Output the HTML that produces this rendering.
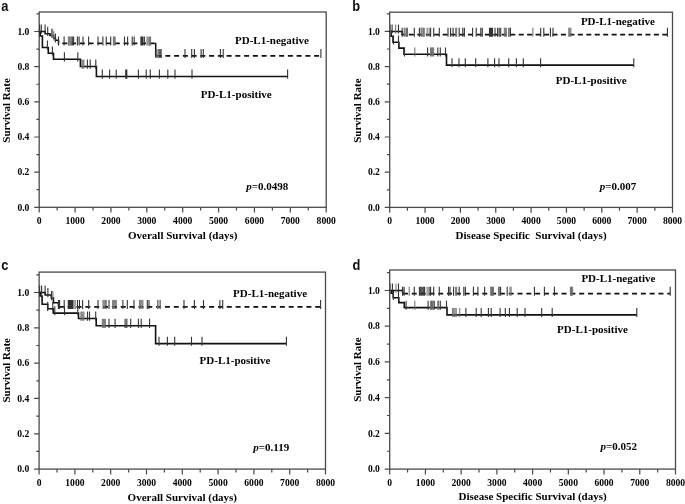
<!DOCTYPE html><html><head><meta charset="utf-8"><style>
html,body{margin:0;padding:0;background:#fff;width:685px;height:504px;overflow:hidden}
svg{display:block;filter:blur(0.3px)}
.t{font-family:"Liberation Serif", serif;font-weight:bold;font-size:9.6px;fill:#000}
.tt{font-family:"Liberation Serif", serif;font-weight:bold;font-size:11px;fill:#000}
.lab{font-family:"Liberation Sans", sans-serif;font-weight:bold;font-size:14.3px;fill:#111}
</style></head><body>
<svg width="685" height="504" viewBox="0 0 685 504">
<rect x="39.2" y="12" width="287" height="195.3" fill="none" stroke="#4a4a4a" stroke-width="1.3"/>
<path d="M34.2 207.3H39.2M36.4 189.72H39.2M34.2 172.14H39.2M36.4 154.56H39.2M34.2 136.98H39.2M36.4 119.4H39.2M34.2 101.82H39.2M36.4 84.24H39.2M34.2 66.66H39.2M36.4 49.08H39.2M34.2 31.5H39.2M36.4 13.92H39.2M39.2 207.3V212.6M57.14 207.3V210.6M75.08 207.3V212.6M93.01 207.3V210.6M110.95 207.3V212.6M128.89 207.3V210.6M146.82 207.3V212.6M164.76 207.3V210.6M182.7 207.3V212.6M200.64 207.3V210.6M218.57 207.3V212.6M236.51 207.3V210.6M254.45 207.3V212.6M272.39 207.3V210.6M290.32 207.3V212.6M308.26 207.3V210.6M326.2 207.3V212.6" stroke="#4a4a4a" stroke-width="1.2" fill="none"/>
<text x="29.4" y="210.5" text-anchor="end" class="t">0.0</text>
<text x="29.4" y="175.34" text-anchor="end" class="t">0.2</text>
<text x="29.4" y="140.18" text-anchor="end" class="t">0.4</text>
<text x="29.4" y="105.02" text-anchor="end" class="t">0.6</text>
<text x="29.4" y="69.86" text-anchor="end" class="t">0.8</text>
<text x="29.4" y="34.7" text-anchor="end" class="t">1.0</text>
<text x="39.2" y="224" text-anchor="middle" class="t">0</text>
<text x="75.08" y="224" text-anchor="middle" class="t">1000</text>
<text x="110.95" y="224" text-anchor="middle" class="t">2000</text>
<text x="146.82" y="224" text-anchor="middle" class="t">3000</text>
<text x="182.7" y="224" text-anchor="middle" class="t">4000</text>
<text x="218.57" y="224" text-anchor="middle" class="t">5000</text>
<text x="254.45" y="224" text-anchor="middle" class="t">6000</text>
<text x="290.32" y="224" text-anchor="middle" class="t">7000</text>
<text x="326.2" y="224" text-anchor="middle" class="t">8000</text>
<text x="182.7" y="239.1" text-anchor="middle" class="tt" xml:space="preserve">Overall Survival (days)</text>
<text transform="translate(10.2 110.45) rotate(-90)" text-anchor="middle" class="tt">Survival Rate</text>
<text transform="translate(1.2 11) scale(0.9 1)" class="lab">a</text>
<text x="288.2" y="189.6" text-anchor="end" class="tt"><tspan font-style="italic">p</tspan>=0.0498</text>
<text x="235" y="44" class="tt">PD-L1-negative</text>
<text x="200.7" y="97.9" class="tt">PD-L1-positive</text>
<path d="M39.5 31.5L40.2 31.5L40.2 36L42.4 36L42.4 47.5L48.3 47.5L48.3 53.3L53.5 53.3L53.5 59.2L80.4 59.2L80.4 66.5L96.4 66.5L96.4 76.5L287.6 76.5" stroke="#111" stroke-width="1.6" fill="none"/>
<path d="M47.4 40.6V49.7M52.4 46.4V55.5M64.4 52.3V61.4M77.8 52.3V61.4M87.4 59.6V68.7M90.2 59.6V68.7M95.8 59.6V68.7M102.3 69.6V78.7M109.6 69.6V78.7M116.2 69.6V78.7M125.7 69.6V78.7M126.8 69.6V78.7M138.4 69.6V78.7M146.2 69.6V78.7M150.3 69.6V78.7M159.4 69.6V78.7M167.8 69.6V78.7M175 69.6V78.7M192 69.6V78.7M287.6 69.6V78.7" stroke="#333" stroke-width="1.1" fill="none"/>
<path d="M81.9 59.6V68.7M82.9 59.6V68.7M83.9 59.6V68.7" stroke="#6a6a6a" stroke-width="1" fill="none"/>
<path d="M58.5 43.4H155.7" stroke="#111" stroke-width="1.7" fill="none" stroke-dasharray="5 3.75" stroke-dashoffset="4.95"/>
<path d="M155.7 55.9H320.9" stroke="#111" stroke-width="1.7" fill="none" stroke-dasharray="5 3.75" stroke-dashoffset="7.85"/>
<path d="M39.5 31.5L45.2 31.5M45.2 31.5L45.2 33.7M45.2 33.7L50 33.7M50 33.7L50 35.6M50 35.6L53.5 35.6M53.5 35.6L53.5 38.1M53.5 38.1L55.4 38.1M55.4 38.1L55.4 40.3M55.4 40.3L58.5 40.3M58.5 40.3L58.5 43.4M155.7 43.4L155.7 55.9" stroke="#111" stroke-width="1.5" fill="none" stroke-linecap="square"/>
<path d="M39.6 24.6V33.7M41.3 24.6V33.7M45.1 24.6V33.7M47.7 26.8V35.9M55.4 33.4V42.5M58.5 36.5V45.6M64.1 36.5V45.6M72.3 36.5V45.6M73.6 36.5V45.6M77.4 36.5V45.6M79.1 36.5V45.6M83 36.5V45.6M88.6 36.5V45.6M98 36.5V45.6M102.9 36.5V45.6M106.2 36.5V45.6M110.7 36.5V45.6M124.5 36.5V45.6M127.6 36.5V45.6M132.2 36.5V45.6M134.2 36.5V45.6M140.9 36.5V45.6M141.9 36.5V45.6M142.9 36.5V45.6M144.4 36.5V45.6M155.9 49V58.1M159.8 49V58.1M161.1 49V58.1M185 49V58.1M191.7 49V58.1M194.4 49V58.1M201.1 49V58.1M203.3 49V58.1M220.4 49V58.1M223.2 49V58.1M320.9 49V58.1" stroke="#333" stroke-width="1.1" fill="none"/>
<path d="M51.6 28.7V37.8M52.7 28.7V37.8M53.8 31.2V40.3M68.3 36.5V45.6M69.3 36.5V45.6M70.3 36.5V45.6M71.3 36.5V45.6M113.4 36.5V45.6M114.3 36.5V45.6M115.1 36.5V45.6M147 36.5V45.6M148.2 36.5V45.6M149.4 36.5V45.6M150.6 36.5V45.6M157 49V58.1M158.4 49V58.1" stroke="#6a6a6a" stroke-width="1" fill="none"/>
<rect x="389.7" y="12.2" width="282.8" height="195.2" fill="none" stroke="#4a4a4a" stroke-width="1.3"/>
<path d="M384.7 207.4H389.7M386.9 189.8H389.7M384.7 172.2H389.7M386.9 154.6H389.7M384.7 137H389.7M386.9 119.4H389.7M384.7 101.8H389.7M386.9 84.2H389.7M384.7 66.6H389.7M386.9 49H389.7M384.7 31.4H389.7M386.9 13.8H389.7M389.7 207.4V212.7M407.38 207.4V210.7M425.05 207.4V212.7M442.72 207.4V210.7M460.4 207.4V212.7M478.07 207.4V210.7M495.75 207.4V212.7M513.42 207.4V210.7M531.1 207.4V212.7M548.77 207.4V210.7M566.45 207.4V212.7M584.12 207.4V210.7M601.8 207.4V212.7M619.48 207.4V210.7M637.15 207.4V212.7M654.83 207.4V210.7M672.5 207.4V212.7" stroke="#4a4a4a" stroke-width="1.2" fill="none"/>
<text x="379.9" y="210.6" text-anchor="end" class="t">0.0</text>
<text x="379.9" y="175.4" text-anchor="end" class="t">0.2</text>
<text x="379.9" y="140.2" text-anchor="end" class="t">0.4</text>
<text x="379.9" y="105" text-anchor="end" class="t">0.6</text>
<text x="379.9" y="69.8" text-anchor="end" class="t">0.8</text>
<text x="379.9" y="34.6" text-anchor="end" class="t">1.0</text>
<text x="389.7" y="223.9" text-anchor="middle" class="t">0</text>
<text x="425.05" y="223.9" text-anchor="middle" class="t">1000</text>
<text x="460.4" y="223.9" text-anchor="middle" class="t">2000</text>
<text x="495.75" y="223.9" text-anchor="middle" class="t">3000</text>
<text x="531.1" y="223.9" text-anchor="middle" class="t">4000</text>
<text x="566.45" y="223.9" text-anchor="middle" class="t">5000</text>
<text x="601.8" y="223.9" text-anchor="middle" class="t">6000</text>
<text x="637.15" y="223.9" text-anchor="middle" class="t">7000</text>
<text x="672.5" y="223.9" text-anchor="middle" class="t">8000</text>
<text x="531.1" y="239.1" text-anchor="middle" class="tt" xml:space="preserve">Disease Specific  Survival (days)</text>
<text transform="translate(361 110.6) rotate(-90)" text-anchor="middle" class="tt">Survival Rate</text>
<text transform="translate(352.3 10.9) scale(0.9 1)" class="lab">b</text>
<text x="636.3" y="190" text-anchor="end" class="tt"><tspan font-style="italic">p</tspan>=0.007</text>
<text x="580.9" y="25.1" class="tt">PD-L1-negative</text>
<text x="555.8" y="83.9" class="tt">PD-L1-positive</text>
<path d="M389.7 31.4L391.1 31.4L391.1 36.2L393 36.2L393 42.3L398.9 42.3L398.9 48.1L404 48.1L404 54.3L446.5 54.3L446.5 65.1L633.8 65.1" stroke="#111" stroke-width="1.6" fill="none"/>
<path d="M393.5 35.4V44.5M398.5 35.4V44.5M404.5 47.4V56.5M427.6 47.4V56.5M437.8 47.4V56.5M440.3 47.4V56.5M445.5 47.4V56.5M452 58.2V67.3M459 58.2V67.3M465.3 58.2V67.3M475.7 58.2V67.3M487.9 58.2V67.3M494.6 58.2V67.3M499 58.2V67.3M508.7 58.2V67.3M516.4 58.2V67.3M523.3 58.2V67.3M540.6 58.2V67.3M633.8 58.2V67.3" stroke="#333" stroke-width="1.1" fill="none"/>
<path d="M414.8 47.4V56.5M430.6 47.4V56.5M431.6 47.4V56.5M432.6 47.4V56.5M433.7 47.4V56.5" stroke="#6a6a6a" stroke-width="1" fill="none"/>
<path d="M402.1 34.6H667.4" stroke="#111" stroke-width="1.7" fill="none" stroke-dasharray="5 3.45" stroke-dashoffset="1.7"/>
<path d="M389.7 31.4L402.1 31.4M402.1 31.4L402.1 34.6" stroke="#111" stroke-width="1.5" fill="none" stroke-linecap="square"/>
<path d="M392.1 24.5V33.6M398.5 24.5V33.6M402.1 27.7V36.8M414.3 27.7V36.8M419.4 27.7V36.8M424 27.7V36.8M430.6 27.7V36.8M433.7 27.7V36.8M439.3 27.7V36.8M448 27.7V36.8M450.6 27.7V36.8M453.1 27.7V36.8M459.2 27.7V36.8M462.8 27.7V36.8M464.4 27.7V36.8M472.6 27.7V36.8M476.2 27.7V36.8M480.8 27.7V36.8M482.3 27.7V36.8M489.5 27.7V36.8M490.5 27.7V36.8M491.5 27.7V36.8M492.5 27.7V36.8M495 27.7V36.8M497.6 27.7V36.8M499.2 27.7V36.8M500.7 27.7V36.8M508.9 27.7V36.8M510.4 27.7V36.8M540.7 27.7V36.8M543.8 27.7V36.8M550.4 27.7V36.8M553 27.7V36.8M667.4 27.7V36.8" stroke="#333" stroke-width="1.1" fill="none"/>
<path d="M390.4 24.5V33.6M395.7 24.5V33.6M404.1 27.7V36.8M405.1 27.7V36.8M406.5 27.7V36.8M407.5 27.7V36.8M421 27.7V36.8M422 27.7V36.8M423 27.7V36.8M427.1 27.7V36.8M429.1 27.7V36.8M455.7 27.7V36.8M456.7 27.7V36.8M504.3 27.7V36.8M505.3 27.7V36.8M506.3 27.7V36.8M532.9 27.7V36.8M568.8 27.7V36.8M569.8 27.7V36.8M570.9 27.7V36.8" stroke="#6a6a6a" stroke-width="1" fill="none"/>
<rect x="39.1" y="272.1" width="286.4" height="197" fill="none" stroke="#4a4a4a" stroke-width="1.3"/>
<path d="M34.1 469.1H39.1M36.3 451.44H39.1M34.1 433.78H39.1M36.3 416.12H39.1M34.1 398.46H39.1M36.3 380.8H39.1M34.1 363.14H39.1M36.3 345.48H39.1M34.1 327.82H39.1M36.3 310.16H39.1M34.1 292.5H39.1M36.3 274.84H39.1M39.1 469.1V474.4M57 469.1V472.4M74.9 469.1V474.4M92.8 469.1V472.4M110.7 469.1V474.4M128.6 469.1V472.4M146.5 469.1V474.4M164.4 469.1V472.4M182.3 469.1V474.4M200.2 469.1V472.4M218.1 469.1V474.4M236 469.1V472.4M253.9 469.1V474.4M271.8 469.1V472.4M289.7 469.1V474.4M307.6 469.1V472.4M325.5 469.1V474.4" stroke="#4a4a4a" stroke-width="1.2" fill="none"/>
<text x="29.3" y="472.3" text-anchor="end" class="t">0.0</text>
<text x="29.3" y="436.98" text-anchor="end" class="t">0.2</text>
<text x="29.3" y="401.66" text-anchor="end" class="t">0.4</text>
<text x="29.3" y="366.34" text-anchor="end" class="t">0.6</text>
<text x="29.3" y="331.02" text-anchor="end" class="t">0.8</text>
<text x="29.3" y="295.7" text-anchor="end" class="t">1.0</text>
<text x="39.1" y="485.5" text-anchor="middle" class="t">0</text>
<text x="74.9" y="485.5" text-anchor="middle" class="t">1000</text>
<text x="110.7" y="485.5" text-anchor="middle" class="t">2000</text>
<text x="146.5" y="485.5" text-anchor="middle" class="t">3000</text>
<text x="182.3" y="485.5" text-anchor="middle" class="t">4000</text>
<text x="218.1" y="485.5" text-anchor="middle" class="t">5000</text>
<text x="253.9" y="485.5" text-anchor="middle" class="t">6000</text>
<text x="289.7" y="485.5" text-anchor="middle" class="t">7000</text>
<text x="325.5" y="485.5" text-anchor="middle" class="t">8000</text>
<text x="182.3" y="500.5" text-anchor="middle" class="tt" xml:space="preserve">Overall Survival (days)</text>
<text transform="translate(10.2 370.3) rotate(-90)" text-anchor="middle" class="tt">Survival Rate</text>
<text transform="translate(1.3 270.2) scale(0.9 1)" class="lab">c</text>
<text x="289.2" y="451" text-anchor="end" class="tt"><tspan font-style="italic">p</tspan>=0.119</text>
<text x="233.1" y="296.8" class="tt">PD-L1-negative</text>
<text x="199.6" y="363.5" class="tt">PD-L1-positive</text>
<path d="M39.4 292.5L40.2 292.5L40.2 296L42.1 296L42.1 304.3L47.7 304.3L47.7 308.7L53.3 308.7L53.3 313.1L78.5 313.1L78.5 318.5L96.2 318.5L96.2 325.7L155.6 325.7L155.6 343.6L286.4 343.6" stroke="#111" stroke-width="1.6" fill="none"/>
<path d="M47.7 301.8V310.9M52.8 301.8V310.9M54.8 306.2V315.3M64.5 306.2V315.3M77.8 306.2V315.3M87.5 311.6V320.7M89.5 311.6V320.7M95.7 311.6V320.7M109 318.8V327.9M115.1 318.8V327.9M125.1 318.8V327.9M126.8 318.8V327.9M130.7 318.8V327.9M138.4 318.8V327.9M141.2 318.8V327.9M149.6 318.8V327.9M159 336.7V345.8M167.4 336.7V345.8M174.7 336.7V345.8M191.5 336.7V345.8M202 336.7V345.8M286.4 336.7V345.8" stroke="#333" stroke-width="1.1" fill="none"/>
<path d="M80.9 311.6V320.7M81.9 311.6V320.7M82.9 311.6V320.7M83.9 311.6V320.7M102.3 318.8V327.9M103.3 318.8V327.9M104.3 318.8V327.9M105.4 318.8V327.9" stroke="#6a6a6a" stroke-width="1" fill="none"/>
<path d="M58.5 306.8H320.6" stroke="#111" stroke-width="1.7" fill="none" stroke-dasharray="5 3.84" stroke-dashoffset="8.5"/>
<path d="M39.4 292.5L45.2 292.5M45.2 292.5L45.2 295M45.2 295L51.3 295M51.3 295L51.3 298M51.3 298L53.5 298M53.5 298L53.5 302.8M53.5 302.8L58.5 302.8M58.5 302.8L58.5 306.8" stroke="#111" stroke-width="1.5" fill="none" stroke-linecap="square"/>
<path d="M39.6 285.6V294.7M41.6 285.6V294.7M45.1 285.6V294.7M47.9 288.1V297.2M51.6 291.1V300.2M58.5 299.9V309M59.6 299.9V309M64.2 299.9V309M68.3 299.9V309M69.4 299.9V309M70.5 299.9V309M71.6 299.9V309M72.7 299.9V309M77.5 299.9V309M79.5 299.9V309M82.6 299.9V309M88.7 299.9V309M98 299.9V309M106 299.9V309M109 299.9V309M116 299.9V309M122.9 299.9V309M127.3 299.9V309M134 299.9V309M147.3 299.9V309M149 299.9V309M184 299.9V309M194.4 299.9V309M203.5 299.9V309M219.9 299.9V309M222.7 299.9V309M320.6 299.9V309" stroke="#333" stroke-width="1.1" fill="none"/>
<path d="M52.9 291.1V300.2M73.9 299.9V309M75.2 299.9V309M103 299.9V309M104 299.9V309M105 299.9V309M112.7 299.9V309M113.7 299.9V309M114.7 299.9V309M139.6 299.9V309M140.7 299.9V309M141.8 299.9V309M142.9 299.9V309M157.6 299.9V309M159 299.9V309M160.4 299.9V309" stroke="#6a6a6a" stroke-width="1" fill="none"/>
<rect x="389.7" y="270" width="285.8" height="199.1" fill="none" stroke="#4a4a4a" stroke-width="1.3"/>
<path d="M384.7 469.1H389.7M386.9 451.24H389.7M384.7 433.38H389.7M386.9 415.52H389.7M384.7 397.66H389.7M386.9 379.8H389.7M384.7 361.94H389.7M386.9 344.08H389.7M384.7 326.22H389.7M386.9 308.36H389.7M384.7 290.5H389.7M386.9 272.64H389.7M389.7 469.1V474.4M407.56 469.1V472.4M425.43 469.1V474.4M443.29 469.1V472.4M461.15 469.1V474.4M479.01 469.1V472.4M496.88 469.1V474.4M514.74 469.1V472.4M532.6 469.1V474.4M550.46 469.1V472.4M568.33 469.1V474.4M586.19 469.1V472.4M604.05 469.1V474.4M621.91 469.1V472.4M639.77 469.1V474.4M657.64 469.1V472.4M675.5 469.1V474.4" stroke="#4a4a4a" stroke-width="1.2" fill="none"/>
<text x="379.9" y="472.3" text-anchor="end" class="t">0.0</text>
<text x="379.9" y="436.58" text-anchor="end" class="t">0.2</text>
<text x="379.9" y="400.86" text-anchor="end" class="t">0.4</text>
<text x="379.9" y="365.14" text-anchor="end" class="t">0.6</text>
<text x="379.9" y="329.42" text-anchor="end" class="t">0.8</text>
<text x="379.9" y="293.7" text-anchor="end" class="t">1.0</text>
<text x="389.7" y="485.5" text-anchor="middle" class="t">0</text>
<text x="425.43" y="485.5" text-anchor="middle" class="t">1000</text>
<text x="461.15" y="485.5" text-anchor="middle" class="t">2000</text>
<text x="496.88" y="485.5" text-anchor="middle" class="t">3000</text>
<text x="532.6" y="485.5" text-anchor="middle" class="t">4000</text>
<text x="568.33" y="485.5" text-anchor="middle" class="t">5000</text>
<text x="604.05" y="485.5" text-anchor="middle" class="t">6000</text>
<text x="639.77" y="485.5" text-anchor="middle" class="t">7000</text>
<text x="675.5" y="485.5" text-anchor="middle" class="t">8000</text>
<text x="532.6" y="500.2" text-anchor="middle" class="tt" xml:space="preserve">Disease Specific Survival (days)</text>
<text transform="translate(361 369.55) rotate(-90)" text-anchor="middle" class="tt">Survival Rate</text>
<text transform="translate(352.5 270) scale(0.9 1)" class="lab">d</text>
<text x="637.1" y="450" text-anchor="end" class="tt"><tspan font-style="italic">p</tspan>=0.052</text>
<text x="581.4" y="282.2" class="tt">PD-L1-negative</text>
<text x="557.1" y="333.4" class="tt">PD-L1-positive</text>
<path d="M389.75 290.5L391.3 290.5L391.3 293.3L393.2 293.3L393.2 297.8L398.8 297.8L398.8 302.6L404.3 302.6L404.3 307.6L447 307.6L447 314.9L636.8 314.9" stroke="#111" stroke-width="1.6" fill="none"/>
<path d="M393.5 290.9V300M398.5 290.9V300M406.1 300.7V309.8M428.1 300.7V309.8M434.2 300.7V309.8M440.3 300.7V309.8M446.5 300.7V309.8M465.9 308V317.1M476.2 308V317.1M481.2 308V317.1M488.4 308V317.1M491.2 308V317.1M500.1 308V317.1M505.3 308V317.1M509.4 308V317.1M517.2 308V317.1M525 308V317.1M541.7 308V317.1M552.2 308V317.1M636.8 308V317.1" stroke="#333" stroke-width="1.1" fill="none"/>
<path d="M414.8 300.7V309.8M430.6 300.7V309.8M431.5 300.7V309.8M432.4 300.7V309.8M433.2 300.7V309.8M437.8 300.7V309.8M438.6 300.7V309.8M452.6 308V317.1M453.8 308V317.1M455 308V317.1M456.2 308V317.1M459.8 308V317.1" stroke="#6a6a6a" stroke-width="1" fill="none"/>
<path d="M402.6 293.6H670.2" stroke="#111" stroke-width="1.7" fill="none" stroke-dasharray="5 3.81" stroke-dashoffset="8.42"/>
<path d="M389.75 290.5L402.6 290.5M402.6 290.5L402.6 293.6" stroke="#111" stroke-width="1.5" fill="none" stroke-linecap="square"/>
<path d="M392.4 283.6V292.7M398.5 283.6V292.7M402.6 286.7V295.8M404.1 286.7V295.8M414.3 286.7V295.8M419.4 286.7V295.8M420.7 286.7V295.8M422 286.7V295.8M423.3 286.7V295.8M424.6 286.7V295.8M429.1 286.7V295.8M430.6 286.7V295.8M433.7 286.7V295.8M439.3 286.7V295.8M448.5 286.7V295.8M450 286.7V295.8M453.6 286.7V295.8M459.2 286.7V295.8M463.8 286.7V295.8M465.4 286.7V295.8M473.4 286.7V295.8M477.9 286.7V295.8M484.6 286.7V295.8M500.6 286.7V295.8M507.2 286.7V295.8M534.4 286.7V295.8M544.4 286.7V295.8M554.4 286.7V295.8M670.2 286.7V295.8" stroke="#333" stroke-width="1.1" fill="none"/>
<path d="M390.4 283.6V292.7M396 283.6V292.7M409.2 286.7V295.8M427.1 286.7V295.8M455.7 286.7V295.8M456.7 286.7V295.8M490.7 286.7V295.8M491.6 286.7V295.8M492.5 286.7V295.8M493.4 286.7V295.8M498.4 286.7V295.8M499.6 286.7V295.8M510 286.7V295.8M511.1 286.7V295.8M570.4 286.7V295.8M571.5 286.7V295.8M572.7 286.7V295.8" stroke="#6a6a6a" stroke-width="1" fill="none"/>
</svg></body></html>
